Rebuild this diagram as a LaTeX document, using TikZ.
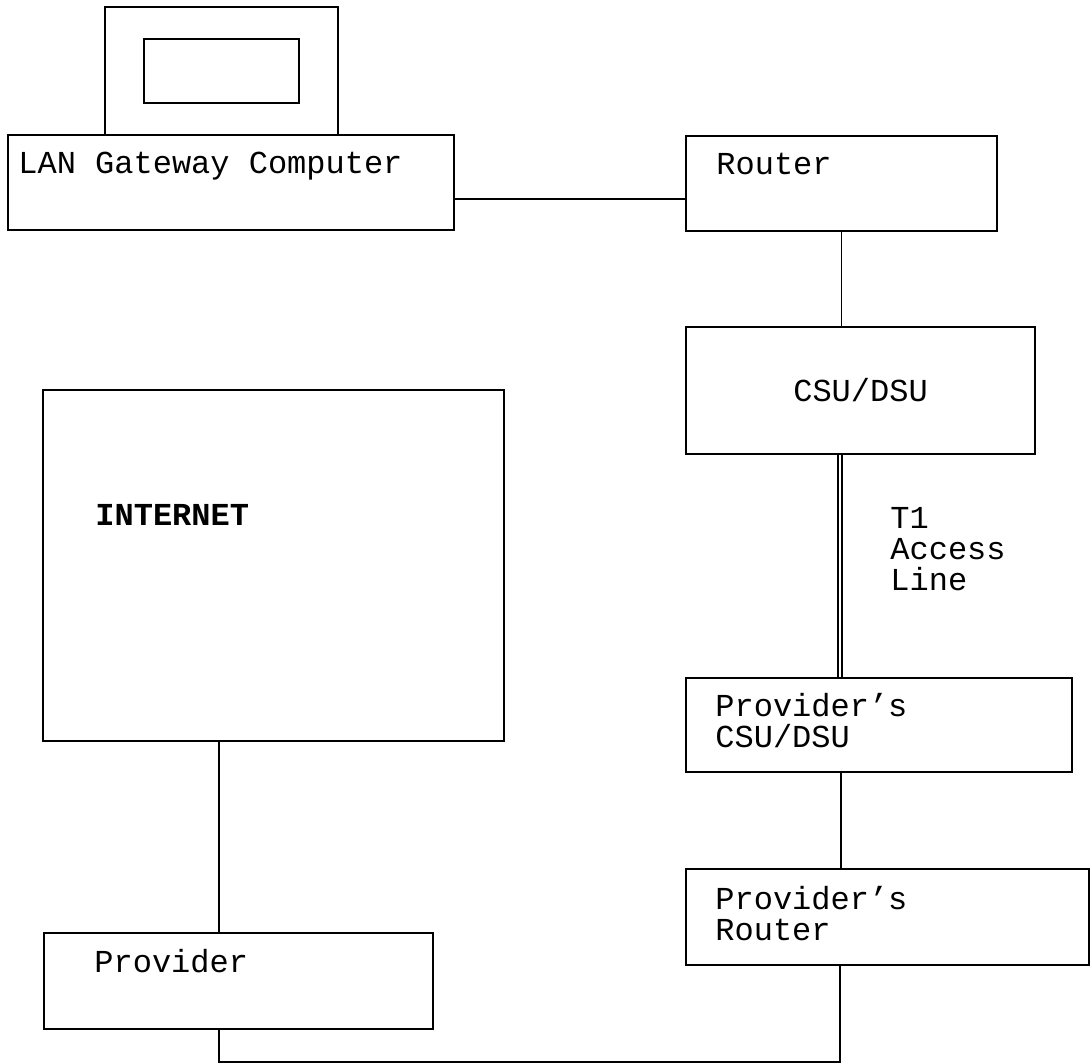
\documentclass[tikz,border=0pt]{standalone}
\usepackage{fontspec}
\setmonofont{Liberation Mono}
\usetikzlibrary{calc}
\tikzset{
  box/.style={draw, line width=1pt, rectangle, inner sep=0pt},
  link/.style={line width=0.75pt},
  lbl/.style={font=\ttfamily\fontsize{16}{15.5}\selectfont, inner sep=0pt, anchor=base west, align=left},
}
\begin{document}
\begin{tikzpicture}[x=0.5pt,y=-0.5pt]
    \useasboundingbox (0,0) rectangle (1091,1063);

    % Monitor sitting on the gateway
    \node[box, minimum width=116.5pt, minimum height=64pt] (monitor) at (221.5,71) {};
    \node[box, minimum width=77.5pt, minimum height=32pt] (screen) at (monitor) {};

    % LAN gateway computer
    \node[box, minimum width=223pt, minimum height=47.5pt] (lan) at (231,182.5) {};
    \node[lbl] (lantext) at ($(lan.north west)+(11,40)$) {LAN Gateway Computer};

    % Router
    \node[box, minimum width=155.5pt, minimum height=47.5pt] (router) at (841.5,183.5) {};
    \node[lbl] (routertext) at ($(router.north west)+(31,40)$) {Router};
    \draw[link] ([yshift=-8.25pt]lan.east) -- ([yshift=-8.25pt]lan.east -| router.west);

    % CSU/DSU
    \node[box, minimum width=174.5pt, minimum height=63.5pt] (csu) at (860.5,390.5) {};
    \node[lbl, anchor=center] (csutext) at (csu) {CSU/DSU};
    \draw[link] (router.south) -- (router.south |- csu.north);

    % Provider's CSU/DSU (base anchor sits on the last line)
    \node[box, minimum width=193pt, minimum height=47pt] (pcsu) at (879,725) {};
    \node[lbl] (pcsutext) at ($(pcsu.north west)+(30,70)$) {Provider’s\\CSU/DSU};

    % T1 access line (double)
    \draw[link, double, double distance=1.25pt] ([xshift=-10.25pt]csu.south) -- ([xshift=-10.25pt]csu.south |- pcsu.north);
    \node[lbl] (t1) at (890,590) {T1\\Access\\Line};

    % Provider's router
    \node[box, minimum width=201.5pt, minimum height=48pt] (prouter) at (887.5,917) {};
    \node[lbl] (proutertext) at ($(prouter.north west)+(30,72)$) {Provider’s\\Router};
    \draw[link] ([xshift=-19pt]pcsu.south) -- ([xshift=-19pt]pcsu.south |- prouter.north);

    % Internet
    \node[box, minimum width=230.5pt, minimum height=175.5pt] (internet) at (273.5,565.5) {};
    \node[lbl, font=\ttfamily\bfseries\fontsize{16}{16}\selectfont] (inettext) at ($(internet.north west)+(53,136)$) {INTERNET};

    % Provider
    \node[box, minimum width=194.5pt, minimum height=48pt] (provider) at (238.5,981) {};
    \node[lbl] (providertext) at ($(provider.north west)+(51,40)$) {Provider};
    \draw[link] ([xshift=-9.75pt]provider.north) -- ([xshift=-9.75pt]provider.north |- internet.south);
    \draw[link] ([xshift=-9.75pt]provider.south) -- ++(0,32) -| ([xshift=-23.75pt]prouter.south);
\end{tikzpicture}
\end{document}
